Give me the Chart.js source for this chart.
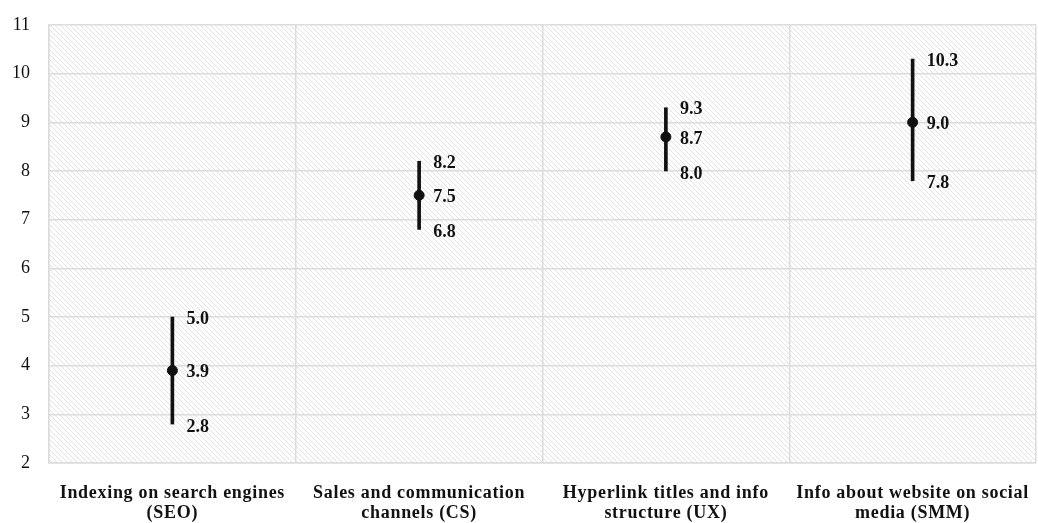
<!DOCTYPE html>
<html>
<head>
<meta charset="utf-8">
<script src="https://cdn.jsdelivr.net/npm/chart.js@4.4.0/dist/chart.umd.min.js"></script>
<style>
  html, body { margin: 0; padding: 0; background: #fff; }
  #wrap { width: 1038px; height: 523px; }
</style>
</head>
<body>
<div id="wrap"><canvas id="myChart" width="1038" height="523"></canvas></div>
<script>
'use strict';

// chart values
var categories = [
    ['Indexing on search engines', '(SEO)'],
    ['Sales and communication', 'channels (CS)'],
    ['Hyperlink titles and info', 'structure (UX)'],
    ['Info about website on social', 'media (SMM)']
];
var means = [3.9, 7.5, 8.7, 9.0];
var lows = [2.8, 6.8, 8.0, 7.8];
var highs = [5.0, 8.2, 9.3, 10.3];
var yTicks = [2, 3, 4, 5, 6, 7, 8, 9, 10, 11];

var ranges = [];
for (var i = 0; i < means.length; i++) {
    ranges.push([lows[i], highs[i]]);
}

var serif = '"Liberation Serif", "Times New Roman", serif';

// diagonal hatch for the plot background
function makeHatch() {
    var c = document.createElement('canvas');
    c.width = 5;
    c.height = 5;
    var g = c.getContext('2d');
    g.fillStyle = '#ffffff';
    g.fillRect(0, 0, 5, 5);
    g.strokeStyle = '#e2e2e2';
    g.lineWidth = 1;
    g.beginPath();
    g.moveTo(-1, -1);
    g.lineTo(6, 6);
    g.moveTo(-1, 4);
    g.lineTo(1, 6);
    g.moveTo(4, -1);
    g.lineTo(6, 1);
    g.stroke();
    return g.createPattern(c, 'repeat');
}

var hatchBg = {
    id: 'hatchBg',
    beforeDraw: function (chart) {
        var a = chart.chartArea;
        var ctx = chart.ctx;
        ctx.save();
        ctx.fillStyle = makeHatch();
        ctx.fillRect(a.left, a.top, a.right - a.left, a.bottom - a.top);
        ctx.restore();
    },
    afterDraw: function (chart) {
        chart.ctx.letterSpacing = '0px';
    }
};

// value labels to the right of each range
var valueLabels = {
    id: 'valueLabels',
    afterDatasetsDraw: function (chart) {
        var ctx = chart.ctx;
        var x = chart.scales.x;
        var y = chart.scales.y;
        ctx.save();
        ctx.font = 'bold 18px ' + serif;
        ctx.fillStyle = '#111111';
        ctx.textAlign = 'left';
        ctx.textBaseline = 'middle';
        for (var i = 0; i < means.length; i++) {
            var px = x.getPixelForValue(i) + 14;
            ctx.fillText(highs[i].toFixed(1), px, y.getPixelForValue(highs[i]) + 2);
            ctx.fillText(means[i].toFixed(1), px, y.getPixelForValue(means[i]) + 2);
            ctx.fillText(lows[i].toFixed(1), px, y.getPixelForValue(lows[i]) + 3);
        }
        ctx.restore();
        // x labels are drawn after this (ticks z = 1), slightly tracked out
        ctx.letterSpacing = '0.7px';
    }
};

var ctx = document.getElementById('myChart').getContext('2d');
var chart = new Chart(ctx, {
    type: 'bar',
    data: {
        labels: categories,
        datasets: [{
            type: 'line',
            data: means,
            showLine: false,
            pointRadius: 5,
            pointHoverRadius: 5,
            pointBackgroundColor: '#111111',
            pointBorderColor: '#111111',
            order: 0
        }, {
            type: 'bar',
            data: ranges,
            backgroundColor: '#111111',
            borderWidth: 0,
            barThickness: 3,
            grouped: false,
            order: 1
        }]
    },
    options: {
        responsive: false,
        animation: false,
        events: [],
        layout: { autoPadding: false, padding: { top: 25, right: 2, left: 0, bottom: 0 } },
        plugins: {
            legend: { display: false },
            tooltip: { enabled: false }
        },
        scales: {
            x: {
                offset: true,
                grid: { offset: true, color: '#dcdcdc', lineWidth: 1.5, drawTicks: false },
                border: { color: '#dcdcdc', width: 1.5 },
                ticks: {
                    z: 1,
                    color: '#111111',
                    padding: 20,
                    maxRotation: 0,
                    autoSkip: false,
                    font: { family: serif, size: 18, weight: 'bold', lineHeight: 1.12 }
                },
                afterFit: function (scale) {
                    scale.height = 60;
                    scale.paddingLeft = 0;
                    scale.paddingRight = 0;
                }
            },
            y: {
                min: 2,
                max: 11,
                afterBuildTicks: function (scale) {
                    scale.ticks = yTicks.map(function (v) { return { value: v }; });
                },
                grid: { color: '#dcdcdc', lineWidth: 1.5, drawTicks: false },
                border: { color: '#dcdcdc', width: 1.5 },
                ticks: {
                    color: '#111111',
                    padding: 19,
                    font: { family: serif, size: 18 }
                },
                afterFit: function (scale) {
                    scale.width = 49;
                    scale.paddingTop = 0;
                    scale.paddingBottom = 0;
                }
            }
        }
    },
    plugins: [hatchBg, valueLabels]
});
</script>
</body>
</html>
